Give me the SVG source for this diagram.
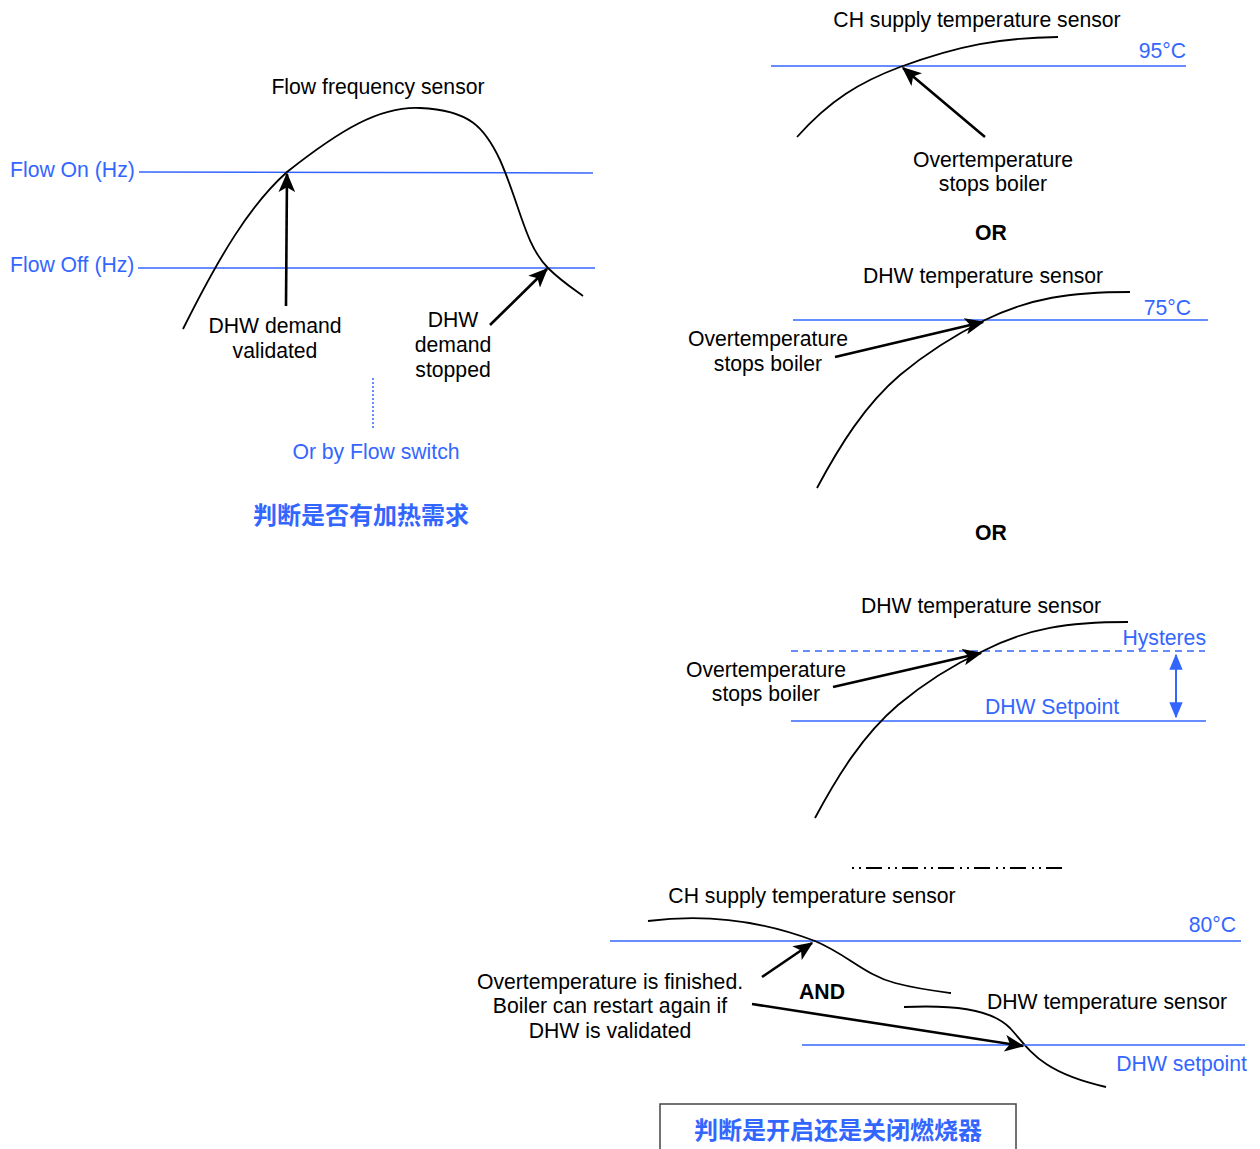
<svg xmlns="http://www.w3.org/2000/svg" width="1260" height="1149" viewBox="0 0 1260 1149">
  <style>
    text { font-family: "Liberation Sans", Arial, sans-serif; font-size: 21.2px; fill: #000; }
    .blue { fill: #3366ff; }
    .mid { text-anchor: middle; }
    .end { text-anchor: end; }
    .bold { font-weight: bold; }
    .cjk { font-family: "Liberation Sans", "Noto Sans CJK SC", sans-serif; font-size: 24px; font-weight: bold; fill: #3366ff; text-anchor: middle; }
    .level { stroke: #3366ff; stroke-width: 1.6; fill: none; }
    .curve { stroke: #000; stroke-width: 1.8; fill: none; }
    .arrow { stroke: #000; stroke-width: 2.6; fill: none; marker-end: url(#head); }
  </style>
  <defs>
    <marker id="head" viewBox="0 0 14 12" refX="13" refY="6" markerWidth="7.5" markerHeight="6.5" orient="auto" markerUnits="strokeWidth">
      <path d="M0,0 L14,6 L0,12 L3.5,6 Z" fill="#000"/>
    </marker>
    <marker id="bhead" viewBox="0 0 12 10" refX="11" refY="5" markerWidth="8" markerHeight="7" orient="auto-start-reverse" markerUnits="strokeWidth">
      <path d="M0,0 L12,5 L0,10 Z" fill="#3366ff"/>
    </marker>
  </defs>

  <rect width="1260" height="1149" fill="#fff"/>

  <!-- Flow frequency sensor chart -->
  <g id="flow-chart">
    <text class="mid" x="378" y="94">Flow frequency sensor</text>
    <text class="blue" x="10" y="177">Flow On (Hz)</text>
    <text class="blue" x="10" y="272">Flow Off (Hz)</text>
    <line class="level" x1="139" y1="172" x2="593" y2="173"/>
    <line class="level" x1="138" y1="268" x2="595" y2="268"/>
    <path class="curve" d="M183,329 C220,255 250,205 287,172 C340,130 380,106 420,108 C470,110 485,128 500,160 C520,205 525,245 548,268 C560,280 572,288 583,296"/>
    <text class="mid" x="275" y="333">DHW demand</text>
    <text class="mid" x="275" y="358">validated</text>
    <text class="mid" x="453" y="327">DHW</text>
    <text class="mid" x="453" y="352">demand</text>
    <text class="mid" x="453" y="377">stopped</text>
    <line x1="373" y1="378" x2="373" y2="428" stroke="#3366ff" stroke-width="1.5" stroke-dasharray="2 2"/>
    <text class="blue mid" x="376" y="459">Or by Flow switch</text>
    <text class="cjk" x="361" y="524">判断是否有加热需求</text>
  </g>

  <!-- CH supply overtemperature -->
  <g id="ch-over">
    <text class="mid" x="977" y="27">CH supply temperature sensor</text>
    <line class="level" x1="771" y1="66" x2="1186" y2="66"/>
    <text class="blue end" x="1186" y="58">95°C</text>
    <path class="curve" d="M797,137 C830,100 860,82 900,67 C960,45 1000,38 1058,37"/>
    <text class="mid" x="993" y="167">Overtemperature</text>
    <text class="mid" x="993" y="191">stops boiler</text>
  </g>

  <text class="mid bold" x="991" y="240">OR</text>

  <!-- DHW overtemperature 75°C -->
  <g id="dhw-over">
    <text class="mid" x="983" y="283">DHW temperature sensor</text>
    <line class="level" x1="793" y1="320" x2="1208" y2="320"/>
    <text class="blue end" x="1191" y="315">75°C</text>
    <path class="curve" d="M817,488 C840,445 865,405 900,375 C930,350 955,335 985,320 C1030,298 1070,292 1130,292"/>
    <text class="mid" x="768" y="346">Overtemperature</text>
    <text class="mid" x="768" y="371">stops boiler</text>
  </g>

  <text class="mid bold" x="991" y="540">OR</text>

  <!-- DHW hysteresis -->
  <g id="dhw-hyst">
    <text class="mid" x="981" y="613">DHW temperature sensor</text>
    <line class="level" x1="791" y1="651" x2="1205" y2="651" stroke-dasharray="7 5"/>
    <text class="blue end" x="1206" y="645">Hysteres</text>
    <line class="level" x1="791" y1="721" x2="1206" y2="721"/>
    <text class="blue mid" x="1052" y="714">DHW Setpoint</text>
    <line x1="1176" y1="655" x2="1176" y2="717" stroke="#3366ff" stroke-width="2" marker-start="url(#bhead)" marker-end="url(#bhead)"/>
    <path class="curve" d="M815,818 C838,775 863,735 898,705 C928,680 953,665 983,651 C1028,628 1068,622 1128,622"/>
    <text class="mid" x="766" y="677">Overtemperature</text>
    <text class="mid" x="766" y="701">stops boiler</text>
  </g>

  <line x1="852" y1="868" x2="1066" y2="868" stroke="#000" stroke-width="2" stroke-dasharray="2 5 2 5 16 6"/>

  <!-- Restart condition -->
  <g id="restart">
    <text class="mid" x="812" y="903">CH supply temperature sensor</text>
    <line class="level" x1="610" y1="941" x2="1241" y2="941"/>
    <text class="blue end" x="1236" y="932">80°C</text>
    <path class="curve" d="M648,921 C710,913 765,922 815,941 C848,955 865,975 895,983 C918,989 935,991 951,993"/>
    <text class="mid bold" x="822" y="999">AND</text>
    <path class="curve" d="M904,1007 C950,1005 990,1008 1010,1028 C1030,1050 1040,1072 1106,1087"/>
    <line class="level" x1="802" y1="1045" x2="1245" y2="1045"/>
    <text class="mid" x="1107" y="1009">DHW temperature sensor</text>
    <text class="blue end" x="1247" y="1071">DHW setpoint</text>
    <text class="mid" x="610" y="989">Overtemperature is finished.</text>
    <text class="mid" x="610" y="1013">Boiler can restart again if</text>
    <text class="mid" x="610" y="1038">DHW is validated</text>
  </g>

  <g id="burner-box">
    <rect x="660" y="1104" width="356" height="60" fill="none" stroke="#444" stroke-width="1.5"/>
    <text class="cjk" x="838" y="1139">判断是开启还是关闭燃烧器</text>
  </g>

  <!-- Connectors -->
  <g id="connectors">
    <line class="arrow" x1="286" y1="306" x2="287" y2="174"/>
    <line class="arrow" x1="490" y1="325" x2="547" y2="269"/>
    <line class="arrow" x1="985" y1="137" x2="903" y2="68"/>
    <line class="arrow" x1="835" y1="357" x2="983" y2="322"/>
    <line class="arrow" x1="833" y1="687" x2="981" y2="653"/>
    <line class="arrow" x1="762" y1="977" x2="812" y2="943"/>
    <line class="arrow" x1="752" y1="1004" x2="1023" y2="1046"/>
  </g>
</svg>
